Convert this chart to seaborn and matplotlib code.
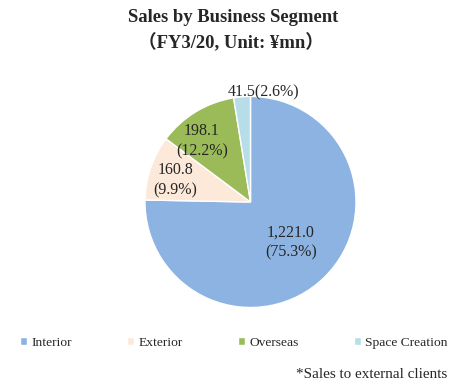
import numpy as np
import matplotlib.pyplot as plt
import seaborn as sns

segments = ["Interior", "Exterior", "Overseas", "Space Creation"]
sales = [1221.0, 160.8, 198.1, 41.5]
colors = ["#8DB3E2", "#FDE9D9", "#9BBB59", "#B7DEE8"]

sns.set_theme(style="white")
plt.rcParams["font.family"] = ["Liberation Serif", "Noto Sans CJK JP", "DejaVu Sans"]

W, H = 459, 392
fig = plt.figure(figsize=(W / 100, H / 100), dpi=100)

# pie axes: centre (250.5, 202) px, radius 105.5 px
cx, cy, r = 250.5, 202, 105.5
ax = fig.add_axes([(cx - r) / W, 1 - (cy + r) / H, 2 * r / W, 2 * r / H])

wedges, _ = ax.pie(sales, colors=colors, startangle=90, counterclock=False,
                   wedgeprops=dict(edgecolor="white", linewidth=1))
ax.set_xlim(-1, 1)
ax.set_ylim(-1, 1)
ax.set_aspect("equal")

total = sum(sales)
# label placement: (radius factor, angle nudge in degrees, single line?)
label_style = [(0.54, 0.5, False), (0.745, 2.6, False), (0.74, 7.4, False), (1.05, -11.2, True)]
for w, v, (rf, nudge, single) in zip(wedges, sales, label_style):
    mid = np.deg2rad((w.theta1 + w.theta2) / 2 + nudge)
    pct = v / total * 100
    sep = "" if single else "\n"
    txt = f"{v:,.1f}{sep}({pct:.1f}%)"
    ax.text(rf * np.cos(mid), rf * np.sin(mid), txt, ha="center", va="center",
            fontsize=11.5, linespacing=1.35)

fig.text(233 / W, 1 - 18 / H, "Sales by Business Segment", ha="center", va="center",
         fontsize=13.4, fontweight="bold")
fig.text(231 / W, 1 - 43 / H, "（FY3/20, Unit: ¥mn）", ha="center", va="center",
         fontsize=13.4, fontweight="bold")

leg = fig.legend(wedges, segments, loc="center", bbox_to_anchor=(234 / W, 1 - 343 / H),
                 ncol=4, frameon=False, fontsize=9.7, handlelength=0.5, handleheight=0.5,
                 handletextpad=0.3, columnspacing=4.15, borderaxespad=0)

fig.text(447 / W, 1 - 375 / H, "*Sales to external clients", ha="right", va="center",
         fontsize=10.9)

fig.savefig("out.png", dpi=100)
